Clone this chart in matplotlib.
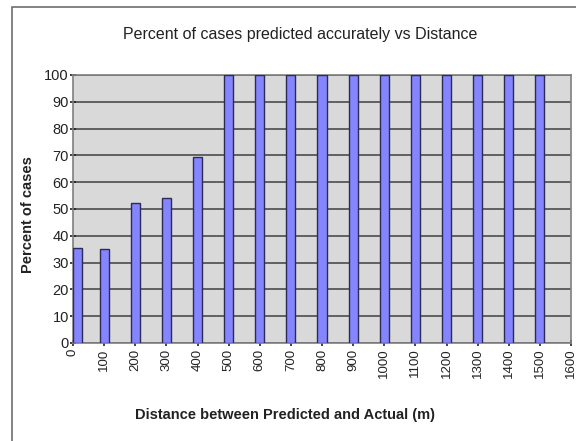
import numpy as np
import matplotlib
matplotlib.use("Agg")
import matplotlib.pyplot as plt
from matplotlib.patches import Rectangle

plt.rcParams['font.family'] = ['Liberation Sans', 'DejaVu Sans']

# Distance bins (m) and share of cases predicted accurately (%)
distances = [0, 100, 200, 300, 400, 500, 600, 700, 800, 900,
             1000, 1100, 1200, 1300, 1400, 1500]
percent_cases = [35.6, 35.2, 52.4, 54.0, 69.3, 100, 100, 100, 100, 100,
                 100, 100, 100, 100, 100, 100]
tick_values = list(range(0, 1700, 100))

fig = plt.figure(figsize=(5.76, 4.41), dpi=100)

# chart frame around everything
fig.patches.append(Rectangle((12 / 576, -0.1), 1.2, 1.1 - 7 / 441,
                             transform=fig.transFigure, fill=False,
                             edgecolor='#6e6e6e', linewidth=1.2))

ax = fig.add_axes([73 / 576, 1 - 343 / 441, 498 / 576, 268 / 441])
ax.set_facecolor('#d9d9d9')

bar_w = 29
x = np.array(distances, dtype=float)
lefts = np.maximum(x - bar_w / 2, 0)
ax.bar(lefts, percent_cases, width=bar_w, align='edge',
       color='#8585ff', edgecolor='#2b2b55', linewidth=1.0, zorder=3)

ax.set_xlim(0, 1600)
ax.set_ylim(0, 100)
ax.set_yticks(range(0, 101, 10))
ax.set_xticks(tick_values)
ax.set_xticklabels([str(v) for v in tick_values], rotation=90)
ax.yaxis.grid(True, color='#404040', linewidth=1.1, zorder=1)
ax.set_axisbelow(True)

for s in ax.spines.values():
    s.set_color('#7f7f7f')
    s.set_linewidth(1.2)

ax.tick_params(axis='both', labelsize=9.5, colors='#222222', length=4,
               width=1.2, direction='inout')
ax.tick_params(axis='y', labelsize=10.5, pad=1)
ax.tick_params(axis='x', pad=2)

fig.text(300 / 576, 1 - 35 / 441, 'Percent of cases predicted accurately vs Distance',
         ha='center', va='center', fontsize=11.5, color='#222222')
fig.text(28 / 576, 1 - 215 / 441, 'Percent of cases', rotation=90,
         ha='center', va='center', fontsize=10.5, fontweight='bold', color='#222222')
fig.text(285 / 576, 1 - 415 / 441, 'Distance between Predicted and Actual (m)',
         ha='center', va='center', fontsize=10.5, fontweight='bold', color='#222222')

fig.savefig('out.png', dpi=100)
